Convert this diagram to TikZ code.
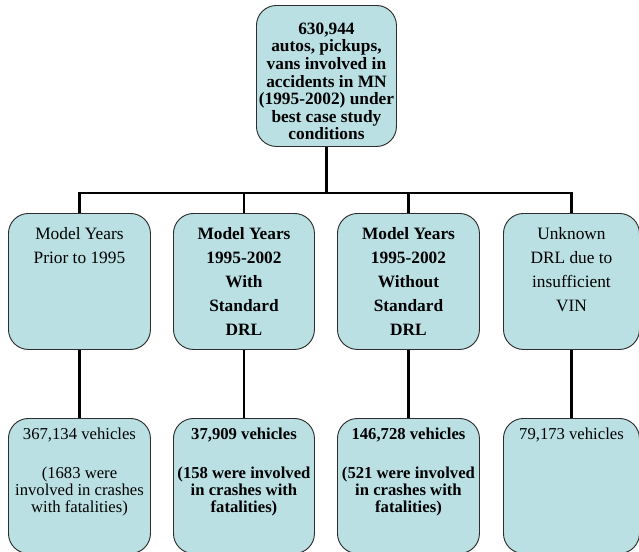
\documentclass[tikz,border=0pt]{standalone}
\usepackage{fontspec}
\setmainfont{Liberation Serif}
\usetikzlibrary{arrows.meta}

\definecolor{boxfill}{RGB}{186,224,227}
\definecolor{boxline}{RGB}{45,45,45}
\tikzset{
  cell/.style={draw=boxline, line width=0.7pt, fill=boxfill, rounded corners=15pt, inner sep=0pt, anchor=north west},
  link/.style={line width=2.2pt, draw=black},
}
% text inside a box: height, width, top gap, lines
\newcommand{\celltext}[4]{\parbox[c][#1][t]{#2}{\centering\vspace*{#3}#4}}

\begin{document}
\begin{tikzpicture}[x=0.75pt,y=0.75pt,yscale=-1,xscale=1]
        \useasboundingbox (0,0) rectangle (639,551);

        % Top box
        \node[cell] (top) at (256,5) {\celltext{105.75pt}{105pt}{13pt}{\fontsize{13}{13.2}\selectfont\bfseries
            630,944\\ autos, pickups,\\ vans involved in\\ accidents in MN\\ (1995-2002) under\\ best case study\\ conditions}};

        % Model year boxes
        \node[cell] (m1) at (8,213) {\celltext{102pt}{106.5pt}{10.5pt}{\fontsize{13}{18}\selectfont
            Model Years\\ Prior to 1995}};
        \node[cell] (m2) at (173,213) {\celltext{102pt}{105.75pt}{10.5pt}{\fontsize{13}{18}\selectfont\bfseries
            Model Years\\ 1995-2002\\ With\\ Standard\\ DRL}};
        \node[cell] (m3) at (337,213) {\celltext{102pt}{106.5pt}{10.5pt}{\fontsize{13}{18}\selectfont\bfseries
            Model Years\\ 1995-2002\\ Without\\ Standard\\ DRL}};
        \node[cell] (m4) at (503,213) {\celltext{102pt}{102pt}{10.5pt}{\fontsize{13}{18}\selectfont
            Unknown\\ DRL due to\\ insufficient\\ VIN}};

        % Vehicle count boxes
        \node[cell] (b1) at (8,418) {\celltext{101.25pt}{106.5pt}{7pt}{\fontsize{12.5}{13}\selectfont
            367,134 vehicles\\[16pt] (1683 were\\ involved in crashes\\ with fatalities)}};
        \node[cell] (b2) at (173,418) {\celltext{101.25pt}{105.75pt}{7pt}{\fontsize{12.5}{13}\selectfont\bfseries
            37,909 vehicles\\[16pt] (158 were involved\\ in crashes with\\ fatalities)}};
        \node[cell] (b3) at (337,418) {\celltext{101.25pt}{106.5pt}{7pt}{\fontsize{12.5}{13}\selectfont\bfseries
            146,728 vehicles\\[16pt] (521 were involved\\ in crashes with\\ fatalities)}};
        \node[cell] (b4) at (503,418) {\celltext{101.25pt}{102pt}{7pt}{\fontsize{12.5}{13}\selectfont
            79,173 vehicles}};

        % Connectors
        \coordinate (bus) at (0,193);
        \draw[link] (top.south) -- (top.south |- bus);
        \draw[link] (m1.north) -- (m1.north |- bus) -- (m4.north |- bus) -- (m4.north);
        \draw[link] (m2.north) -- (m2.north |- bus);
        \draw[link] (m3.north) -- (m3.north |- bus);
        \foreach \i in {1,...,4}
            \draw[link] (m\i.south) -- (b\i.north);
\end{tikzpicture}
\end{document}
